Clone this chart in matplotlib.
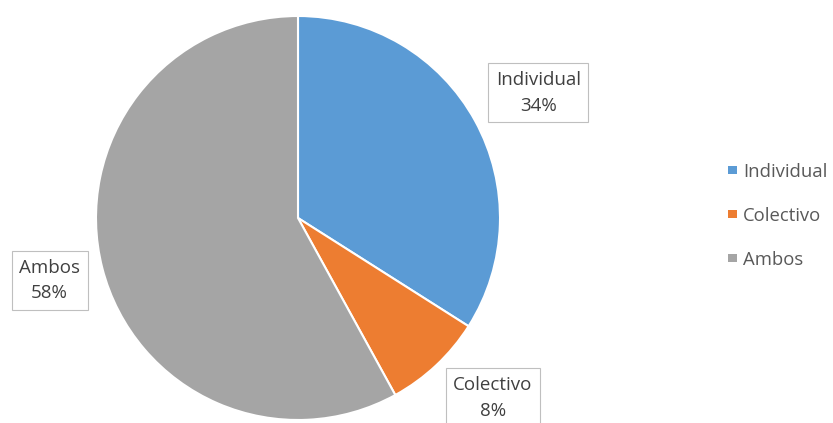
import numpy as np
import matplotlib.pyplot as plt
from matplotlib.patches import Patch

plt.rcParams['font.family'] = ['Open Sans', 'DejaVu Sans']

categories = ['Individual', 'Colectivo', 'Ambos']
values = [34, 8, 58]
colors = ['#5B9BD5', '#ED7D31', '#A5A5A5']
label_pos = [(1.19, 0.62), (0.965, -0.89), (-1.23, -0.31)]

fig = plt.figure(figsize=(8.33, 4.23), dpi=100)
ax = fig.add_axes([96 / 833, 3 / 423, 404 / 833, 404 / 423])

wedges, _ = ax.pie(values, colors=colors, startangle=90, counterclock=False,
                   wedgeprops=dict(edgecolor='white', linewidth=1.5))
ax.set_xlim(-1, 1)
ax.set_ylim(-1, 1)
ax.set_aspect('equal')

for cat, val, pos in zip(categories, values, label_pos):
    ax.text(pos[0], pos[1], f'{cat}\n{val}%', ha='center', va='center',
            fontsize=13.5, color='#404040', linespacing=1.55, clip_on=False,
            bbox=dict(boxstyle='square,pad=0.4', facecolor='white',
                      edgecolor='#BFBFBF', linewidth=0.8))

handles = [Patch(facecolor=c, edgecolor='none') for c in colors]
fig.legend(handles, categories, loc='center left', bbox_to_anchor=(0.863, 0.49),
           frameon=False, fontsize=13.3, labelcolor='#595959',
           handlelength=0.5, handleheight=0.3, handletextpad=0.3,
           labelspacing=1.4, borderpad=0)

fig.savefig('out.png', dpi=100)
